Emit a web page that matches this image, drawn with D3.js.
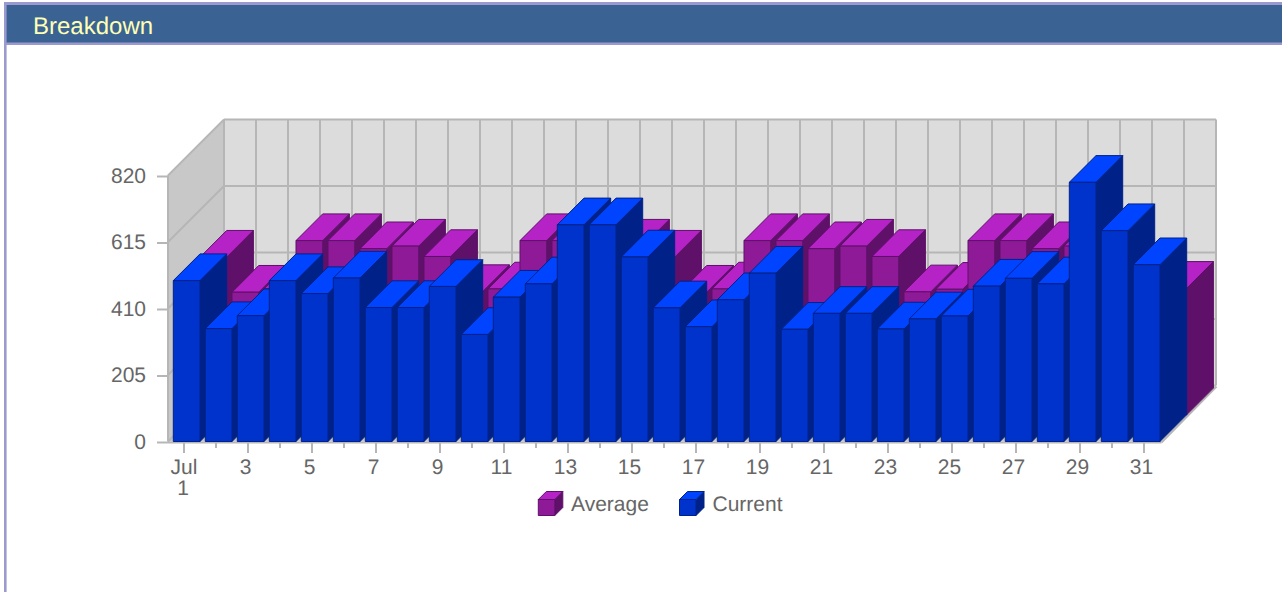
<!DOCTYPE html>
<html>
<head>
<meta charset="utf-8">
<script src="https://cdn.jsdelivr.net/npm/d3@7"></script>
<style>
html,body{margin:0;padding:0;background:#fff;overflow:hidden}
svg{display:block}
text{font-family:"Liberation Sans",Arial,sans-serif;text-rendering:geometricPrecision}
</style>
</head>
<body>
<svg id="c" width="1282" height="592"></svg>
<script>
const title = "Breakdown";
const days = d3.range(1, 32);
const average = [486,378,388,537,537,512,520,488,380,388,537,537,512,520,486,378,388,537,537,512,520,488,379,387,537,537,512,520,488,380,390];
const current = [496,348,388,496,456,504,413,413,478,330,445,486,668,668,569,412,354,437,519,346,395,395,347,378,387,479,503,486,799,650,545];
const yTicks = [0,205,410,615,820];
const seriesNames = ["Average","Current"];
const seriesColors = [
  {front:"#8e1a98", top:"#b522c6", side:"#5f1069", edge:"#5f1069"},
  {front:"#0033cc", top:"#0044ff", side:"#002288", edge:"#002288"}
];

const svg = d3.select("#c");
const wall = 56, depth = 26.7, barW = 26.7, inset = 5.3;
const x = d3.scaleBand().domain(days).range([168, 1160]);
const y = d3.scaleLinear().domain([0, 820]).range([441.5, 175.5]);
const grid = "#b6b6b6";
const base = y(0), topY = y(820), L = x.range()[0], R = x.range()[1];
const pts = a => a.map(p => p.join(",")).join(" ");

// page frame
svg.append("rect").attr("x",4).attr("y",2).attr("width",1278).attr("height",43).attr("fill","#9a9ace");
svg.append("rect").attr("x",4).attr("y",2).attr("width",2.6).attr("height",590).attr("fill","#9a9ace");
svg.append("rect").attr("x",6.6).attr("y",5).attr("width",1276).attr("height",37.5).attr("fill","#3a6394");
svg.append("text").attr("x",33).attr("y",34).attr("font-size",24).attr("fill","#ffffb4").text(title);

// walls and floor
svg.append("polygon").attr("points",pts([[L,topY],[L+wall,topY-wall],[L+wall,base-wall],[L,base]])).attr("fill","#c8c8c8");
svg.append("rect").attr("x",L+wall).attr("y",topY-wall).attr("width",R-L).attr("height",base-topY).attr("fill","#dcdcdc");
svg.append("polygon").attr("points",pts([[L,base],[R,base],[R+wall,base-wall],[L+wall,base-wall]])).attr("fill","#c8c8c8");

const gl = svg.append("g").attr("stroke",grid).attr("stroke-width",2).attr("fill","none");
yTicks.forEach(t => {
  const v = y(t);
  gl.append("line").attr("x1",L+wall).attr("x2",R+wall).attr("y1",v-wall).attr("y2",v-wall);
  gl.append("line").attr("x1",L).attr("x2",L+wall).attr("y1",v).attr("y2",v-wall);
  gl.append("line").attr("x1",157).attr("x2",L).attr("y1",v+1).attr("y2",v+1);
});
days.concat([32]).forEach((d,i) => {
  const v = L + i * x.step() + wall;
  gl.append("line").attr("x1",v).attr("x2",v).attr("y1",topY-wall).attr("y2",base-wall);
});
gl.append("line").attr("x1",L).attr("x2",L).attr("y1",topY).attr("y2",base);
gl.append("line").attr("x1",L).attr("x2",R+1.5).attr("y1",base+1).attr("y2",base+1);
gl.append("line").attr("x1",R+1.5).attr("x2",R+wall+0.5).attr("y1",base+1).attr("y2",base-wall+1);

// y labels
svg.append("g").selectAll("text").data(yTicks).join("text")
  .attr("x",146).attr("y",d=>y(d)+7).attr("text-anchor","end")
  .attr("font-size",21).attr("fill","#666").text(d=>d);

// x ticks and labels
const ax = svg.append("g");
days.forEach((d,i) => {
  const c = x(d) + x.bandwidth()/2;
  ax.append("line").attr("x1",c).attr("x2",c).attr("y1",base+1).attr("y2",i%2===0?453:448)
    .attr("stroke",grid).attr("stroke-width",2);
  if (i%2===0) {
    ax.append("text").attr("x",i===0?c:c-2.5).attr("y",474).attr("text-anchor","middle")
      .attr("font-size",21).attr("fill","#666").text(i===0?"Jul":d);
  }
});
ax.append("text").attr("x",x(1)+x.bandwidth()/2-1).attr("y",495).attr("text-anchor","middle")
  .attr("font-size",21).attr("fill","#666").text("1");

// cuboid helper
function cuboid(g, x0, yTop, yBot, w, dz, c) {
  const e = {stroke:c.edge, "stroke-width":1, "stroke-linejoin":"round"};
  const add = (p, f) => { const s = g.append("polygon").attr("points",pts(p)).attr("fill",f);
    Object.entries(e).forEach(([k,v]) => s.attr(k,v)); };
  add([[x0+w,yTop],[x0+w+dz,yTop-dz],[x0+w+dz,yBot-dz],[x0+w,yBot]], c.side);
  add([[x0,yTop],[x0+dz,yTop-dz],[x0+w+dz,yTop-dz],[x0+w,yTop]], c.top);
  add([[x0,yTop],[x0+w,yTop],[x0+w,yBot],[x0,yBot]], c.front);
}

// bars, back series first, left to right
const bars = svg.append("g");
[average, current].forEach((vals, s) => {
  const off = s === 0 ? depth : 0;
  const g = bars.append("g");
  days.forEach((d,i) => {
    cuboid(g, x(d)+inset+off, y(vals[i])-off, base-off, barW, depth, seriesColors[s]);
  });
});

// legend
const legendX = [538.3, 679.5], legendTextX = [571, 712.5];
seriesNames.forEach((n,i) => {
  cuboid(svg.append("g"), legendX[i], 499.5, 515.5, 16.5, 8, seriesColors[i]);
  svg.append("text").attr("x",legendTextX[i]).attr("y",511)
    .attr("font-size",21).attr("fill","#666").text(n);
});
</script>
</body>
</html>
